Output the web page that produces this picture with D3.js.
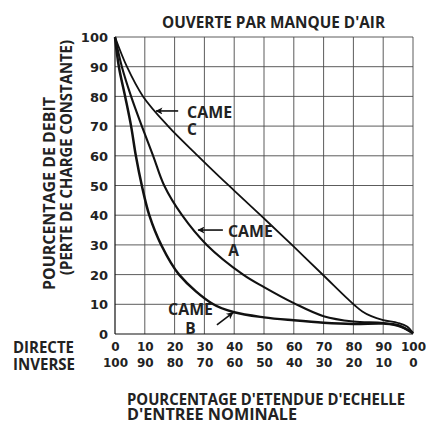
<!DOCTYPE html>
<html>
<head>
<meta charset="utf-8">
<script src="https://cdn.jsdelivr.net/npm/d3@7/dist/d3.min.js"></script>
<style>
  html, body { margin: 0; padding: 0; background: #fff; }
  svg { display: block; }
  text { fill: #222; }
</style>
</head>
<body>
<script>
// ---------- data ----------
const xTicksDirect = [0, 10, 20, 30, 40, 50, 60, 70, 80, 90, 100];
const xTicksInverse = ["100", "90", "80", "70", "60", "50", "40", "30", "20", "10", "0"];
const yTicks = [0, 10, 20, 30, 40, 50, 60, 70, 80, 90, 100];

// curves (x = % input span, y = % flow)
const cameCX = [0, 4, 9.4, 17.8, 27.8, 35, 40, 50, 60, 70, 78, 80.5, 83, 86, 90, 95, 98, 100];
const cameCY = [100, 90, 80, 70, 60, 53, 48.3, 38.9, 29.4, 19.7, 11.9, 9.6, 7.6, 6.0, 4.7, 3.7, 2.5, 0.3];

const cameAX = [0, 2.3, 5.4, 9, 12.8, 16.5, 22.5, 30.8, 43, 50, 60, 70, 80, 90, 95, 98, 100];
const cameAY = [100, 90, 80, 70, 60, 50, 40, 30, 20, 15.8, 10.4, 6, 4.2, 3.7, 2.7, 1.5, 0.3];

const cameBX = [0, 1.3, 3.4, 5.4, 7, 9, 11.5, 15.5, 21.5, 33, 40, 50, 60, 70, 80, 90, 95, 98, 100];
const cameBY = [100, 90, 80, 70, 60, 50, 40, 30, 20, 10, 7.3, 5.6, 4.6, 3.8, 3.4, 3.5, 3, 1.5, 0.3];

const title = "OUVERTE PAR MANQUE D'AIR";
const yTitle1 = "POURCENTAGE DE DEBIT";
const yTitle2 = "(PERTE DE CHARGE CONSTANTE)";
const xTitle1 = "POURCENTAGE D'ETENDUE D'ECHELLE";
const xTitle2 = "D'ENTREE NOMINALE";
const rowLabel1 = "DIRECTE";
const rowLabel2 = "INVERSE";

// annotations (data units): "CAME" start, letter start, arrow tail, arrow head
const annoNames = ["C", "A", "B"];
const annoText = [[24.2, 72.7], [37.9, 32.7], [17.8, 6.4]];
const annoLetter = [[24.2, 67], [38.0, 26.3], [23.6, 0]];
const annoArrowFrom = [[21.2, 75.1], [36.2, 35], [34.2, 3.1]];
const annoArrowTo = [[13.8, 75.1], [27.9, 35], [39.6, 7.2]];

// ---------- drawing ----------
const W = 426, H = 423;
const svg = d3.select("body").append("svg").attr("width", W).attr("height", H);

const x = d3.scaleLinear().domain([0, 100]).range([115, 413]);
const y = d3.scaleLinear().domain([0, 100]).range([334, 37]);

const FONT = "'Open Sans', sans-serif";
const NUMFONT = "'DejaVu Sans', sans-serif";

// grid
const grid = svg.append("g");
grid.selectAll("line.v").data(xTicksDirect.slice(1)).join("line")
  .attr("x1", d => x(d)).attr("x2", d => x(d))
  .attr("y1", y(0)).attr("y2", y(100))
  .attr("stroke", "#4a4a4a").attr("stroke-width", 0.9);
grid.selectAll("line.h").data(yTicks.slice(1)).join("line")
  .attr("x1", x(0)).attr("x2", x(100))
  .attr("y1", d => y(d)).attr("y2", d => y(d))
  .attr("stroke", "#4a4a4a").attr("stroke-width", 0.9);

// axes lines
svg.append("line").attr("x1", x(0)).attr("x2", x(0)).attr("y1", y(0)).attr("y2", y(100))
  .attr("stroke", "#111").attr("stroke-width", 1.2);
svg.append("line").attr("x1", x(0)).attr("x2", x(100)).attr("y1", y(0)).attr("y2", y(0))
  .attr("stroke", "#111").attr("stroke-width", 1.2);

// y tick labels
const yAxis = d3.axisLeft(y).tickValues(yTicks).tickSize(0).tickPadding(7);
const gy = svg.append("g").attr("transform", `translate(${x(0)},0)`).call(yAxis);
gy.select(".domain").remove();
gy.selectAll("text").attr("font-family", NUMFONT).attr("font-weight", "bold")
  .attr("font-size", 13).attr("fill", "#222").attr("dy", "0.36em");

// x tick labels: two rows
const xAxis1 = d3.axisBottom(x).tickValues(xTicksDirect).tickSize(0).tickPadding(8);
const gx1 = svg.append("g").attr("transform", `translate(0,${y(0)})`).call(xAxis1);
gx1.select(".domain").remove();
gx1.selectAll("text").attr("font-family", NUMFONT).attr("font-weight", "bold")
  .attr("font-size", 12).attr("fill", "#222");

const xAxis2 = d3.axisBottom(x).tickValues(xTicksDirect)
  .tickFormat((d, i) => xTicksInverse[i]).tickSize(0).tickPadding(24);
const gx2 = svg.append("g").attr("transform", `translate(0,${y(0)})`).call(xAxis2);
gx2.select(".domain").remove();
gx2.selectAll("text").attr("font-family", NUMFONT).attr("font-weight", "bold")
  .attr("font-size", 12).attr("fill", "#222");

// curves
const line = d3.line().x(d => x(d[0])).y(d => y(d[1])).curve(d3.curveCatmullRom.alpha(0.5));
const curves = [
  { xs: cameCX, ys: cameCY, w: 1.8 },
  { xs: cameAX, ys: cameAY, w: 2.1 },
  { xs: cameBX, ys: cameBY, w: 2.5 }
];
curves.forEach(c => {
  svg.append("path").datum(c.xs.map((v, i) => [v, c.ys[i]]))
    .attr("d", line).attr("fill", "none").attr("stroke", "#111")
    .attr("stroke-width", c.w).attr("stroke-linejoin", "round");
});

// arrow marker
svg.append("defs").append("marker")
  .attr("id", "ah").attr("viewBox", "0 0 10 10").attr("refX", 9).attr("refY", 5)
  .attr("markerWidth", 10).attr("markerHeight", 7).attr("markerUnits", "userSpaceOnUse")
  .attr("orient", "auto")
  .append("path").attr("d", "M0,0 L10,5 L0,10 L2.5,5 Z").attr("fill", "#111");

annoNames.forEach((n, i) => {
  svg.append("text").attr("x", x(annoText[i][0])).attr("y", y(annoText[i][1]))
    .attr("font-family", FONT).attr("font-weight", "bold").attr("font-size", 15.5)
    .attr("textLength", 45).attr("lengthAdjust", "spacingAndGlyphs").text("CAME");
  svg.append("text").attr("x", x(annoLetter[i][0])).attr("y", y(annoLetter[i][1]))
    .attr("font-family", FONT).attr("font-weight", "bold").attr("font-size", 15.5).text(n);
  svg.append("line")
    .attr("x1", x(annoArrowFrom[i][0])).attr("y1", y(annoArrowFrom[i][1]))
    .attr("x2", x(annoArrowTo[i][0])).attr("y2", y(annoArrowTo[i][1]))
    .attr("stroke", "#111").attr("stroke-width", 1.6).attr("marker-end", "url(#ah)");
});

// titles
function label(txt, px, py, size, len, rot) {
  const t = svg.append("text").attr("font-family", FONT).attr("font-weight", "bold")
    .attr("font-size", size).attr("textLength", len).attr("lengthAdjust", "spacingAndGlyphs")
    .text(txt);
  if (rot) t.attr("transform", `translate(${px},${py}) rotate(-90)`);
  else t.attr("x", px).attr("y", py);
  return t;
}
label(title, 162, 28, 16, 223);
label(rowLabel1, 13, 353, 16.5, 61);
label(rowLabel2, 13, 370, 16.5, 62);
label(xTitle1, 127, 405, 16, 278);
label(xTitle2, 127, 420, 16, 170);
label(yTitle1, 55, 290, 16.5, 193, true);
label(yTitle2, 72, 275, 16.5, 235, true);
</script>
</body>
</html>
